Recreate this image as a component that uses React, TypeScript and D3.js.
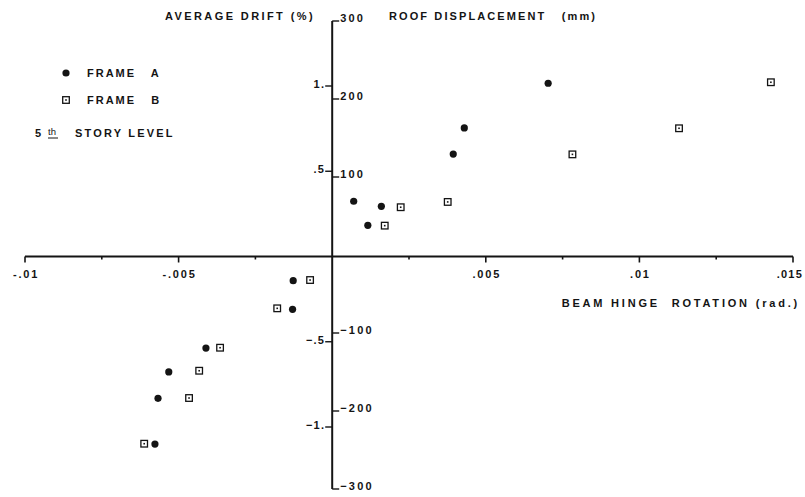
import React, { useEffect, useRef } from "react";
import * as d3 from "d3";

// beam hinge rotation (rad) and average drift (%)
const frameARotation = [0.00703, 0.0043, 0.00394, 0.0007, 0.0016, 0.00116, -0.00127, -0.00129, -0.00411, -0.00532, -0.00567, -0.00577];
const frameADrift = [1.016, 0.754, 0.601, 0.324, 0.294, 0.183, -0.142, -0.31, -0.537, -0.677, -0.832, -1.1];
const frameBRotation = [0.01428, 0.01129, 0.00782, 0.00376, 0.00223, 0.00171, -0.00072, -0.00179, -0.00365, -0.00433, -0.00466, -0.00612];
const frameBDrift = [1.022, 0.752, 0.599, 0.32, 0.289, 0.181, -0.138, -0.304, -0.535, -0.67, -0.83, -1.098];

const rotationTicks = [-0.01, -0.0075, -0.005, -0.0025, 0.0025, 0.005, 0.0075, 0.01, 0.0125, 0.015];
const rotationLabelValues = [-0.01, -0.005, 0.005, 0.01, 0.015];
const rotationLabels = ["-.01", "-.005", ".005", ".01", ".015"];
const driftTicks = [1, 0.5, -0.5, -1];
const driftLabels = ["1.", ".5", "\u2212.5", "\u22121."];
const mmTicks = [300, 200, 100, -100, -200, -300];
const mmLabels = ["300", "200", "100", "\u2212100", "\u2212200", "\u2212300"];

const W = 805;
const H = 497;
const ink = "#141414";
const font = "'Liberation Sans', Arial, sans-serif";

const App = () => {
  const svgRef = useRef<SVGSVGElement>(null);

  useEffect(() => {
    const svg = d3.select(svgRef.current);
    svg.selectAll("*").remove();

    const x = d3.scaleLinear().domain([-0.01, 0.015]).range([25, 793]);
    const yDrift = d3.scaleLinear().domain([-1, 1]).range([427, 86]);
    const yMm = d3.scaleLinear().domain([-300, 300]).range([489, 21]);
    const x0 = x(0);
    const y0 = yDrift(0);

    const g = svg.append("g").attr("font-family", font).attr("font-weight", "bold").attr("fill", ink);

    // horizontal axis
    g.append("line")
      .attr("x1", x(-0.01)).attr("x2", x(0.015))
      .attr("y1", y0).attr("y2", y0)
      .attr("stroke", ink).attr("stroke-width", 1.8);
    g.selectAll(".xtick")
      .data(rotationTicks)
      .enter()
      .append("line")
      .attr("x1", (d) => x(d)).attr("x2", (d) => x(d))
      .attr("y1", y0)
      .attr("y2", (d) => y0 + (Math.abs(Math.round(d * 1000) % 5) === 0 ? 6 : 3))
      .attr("stroke", ink).attr("stroke-width", 1.6);
    g.selectAll(".xlabel")
      .data(rotationLabelValues)
      .enter()
      .append("text")
      .attr("x", (d, i) => (i === rotationLabelValues.length - 1 ? 803 : x(d) + 1))
      .attr("y", y0 + 21)
      .attr("text-anchor", (d, i) => (i === rotationLabelValues.length - 1 ? "end" : "middle"))
      .attr("font-size", 11)
      .attr("letter-spacing", (d, i) => (i === rotationLabelValues.length - 1 ? 1.2 : 1.8))
      .text((d, i) => rotationLabels[i]);

    // vertical axis
    g.append("line")
      .attr("x1", x0).attr("x2", x0)
      .attr("y1", yMm(300)).attr("y2", yMm(-300))
      .attr("stroke", ink).attr("stroke-width", 2);

    // drift ticks on the left
    g.selectAll(".dtick")
      .data(driftTicks)
      .enter()
      .append("line")
      .attr("x1", x0 - 7).attr("x2", x0)
      .attr("y1", (d) => yDrift(d)).attr("y2", (d) => yDrift(d))
      .attr("stroke", ink).attr("stroke-width", 1.4);
    g.selectAll(".dlabel")
      .data(driftTicks)
      .enter()
      .append("text")
      .attr("x", x0 - 7)
      .attr("y", (d) => yDrift(d) + 2)
      .attr("text-anchor", "end")
      .attr("font-size", 11)
      .attr("letter-spacing", 1.2)
      .text((d, i) => driftLabels[i]);

    // roof displacement ticks on the right
    g.selectAll(".mtick")
      .data(mmTicks)
      .enter()
      .append("line")
      .attr("x1", x0).attr("x2", x0 + 7)
      .attr("y1", (d) => yMm(d)).attr("y2", (d) => yMm(d))
      .attr("stroke", ink).attr("stroke-width", 1.4);
    g.selectAll(".mlabel")
      .data(mmTicks)
      .enter()
      .append("text")
      .attr("x", x0 + 8)
      .attr("y", (d) => yMm(d) + 1)
      .attr("font-size", 11)
      .attr("letter-spacing", 2.2)
      .text((d, i) => mmLabels[i]);

    // axis titles
    g.append("text")
      .attr("x", 315).attr("y", 20)
      .attr("text-anchor", "end")
      .attr("font-size", 11)
      .attr("letter-spacing", 2.4)
      .text("AVERAGE DRIFT (%)");
    g.append("text")
      .attr("x", 389).attr("y", 20)
      .attr("font-size", 11)
      .attr("letter-spacing", 2.1)
      .attr("xml:space", "preserve")
      .text("ROOF DISPLACEMENT   (mm)");
    g.append("text")
      .attr("x", 800).attr("y", 307)
      .attr("text-anchor", "end")
      .attr("font-size", 11)
      .attr("letter-spacing", 2.8)
      .attr("xml:space", "preserve")
      .text("BEAM HINGE  ROTATION (rad.)");

    // points
    const frameB = frameBRotation.map((r, i) => [r, frameBDrift[i]]);
    const frameA = frameARotation.map((r, i) => [r, frameADrift[i]]);

    const sq = g.selectAll(".b").data(frameB).enter().append("g")
      .attr("transform", (d) => `translate(${x(d[0])},${yDrift(d[1])})`);
    sq.append("rect")
      .attr("x", -3.3).attr("y", -3.3).attr("width", 6.6).attr("height", 6.6)
      .attr("fill", "white").attr("stroke", ink).attr("stroke-width", 1.3);
    sq.append("rect")
      .attr("x", -0.8).attr("y", -0.8).attr("width", 1.6).attr("height", 1.6)
      .attr("fill", ink);

    g.selectAll(".a").data(frameA).enter().append("circle")
      .attr("cx", (d) => x(d[0]))
      .attr("cy", (d) => yDrift(d[1]))
      .attr("r", 3.6)
      .attr("fill", ink);

    // legend
    g.append("circle").attr("cx", 66).attr("cy", 73).attr("r", 3.6).attr("fill", ink);
    g.append("rect")
      .attr("x", 62.7).attr("y", 96.7).attr("width", 6.6).attr("height", 6.6)
      .attr("fill", "white").attr("stroke", ink).attr("stroke-width", 1.3);
    g.append("rect")
      .attr("x", 65.2).attr("y", 99.2).attr("width", 1.6).attr("height", 1.6)
      .attr("fill", ink);
    g.append("text").attr("x", 87).attr("y", 77).attr("font-size", 11)
      .attr("letter-spacing", 2).attr("xml:space", "preserve").text("FRAME   A");
    g.append("text").attr("x", 87).attr("y", 104).attr("font-size", 11)
      .attr("letter-spacing", 2).attr("xml:space", "preserve").text("FRAME   B");
    g.append("text").attr("x", 35).attr("y", 137).attr("font-size", 11).text("5");
    g.append("text").attr("x", 48).attr("y", 135).attr("font-size", 9.5).attr("font-weight", "normal").text("th");
    g.append("line").attr("x1", 48).attr("x2", 58).attr("y1", 138).attr("y2", 138)
      .attr("stroke", ink).attr("stroke-width", 1);
    g.append("text").attr("x", 75).attr("y", 137).attr("font-size", 11)
      .attr("letter-spacing", 2.2).text("STORY LEVEL");
  }, []);

  return (
    <div style={{ position: "absolute", left: 0, top: 0 }}>
      <svg ref={svgRef} width={W} height={H} style={{ display: "block", background: "white" }}></svg>
    </div>
  );
};

export default App;
